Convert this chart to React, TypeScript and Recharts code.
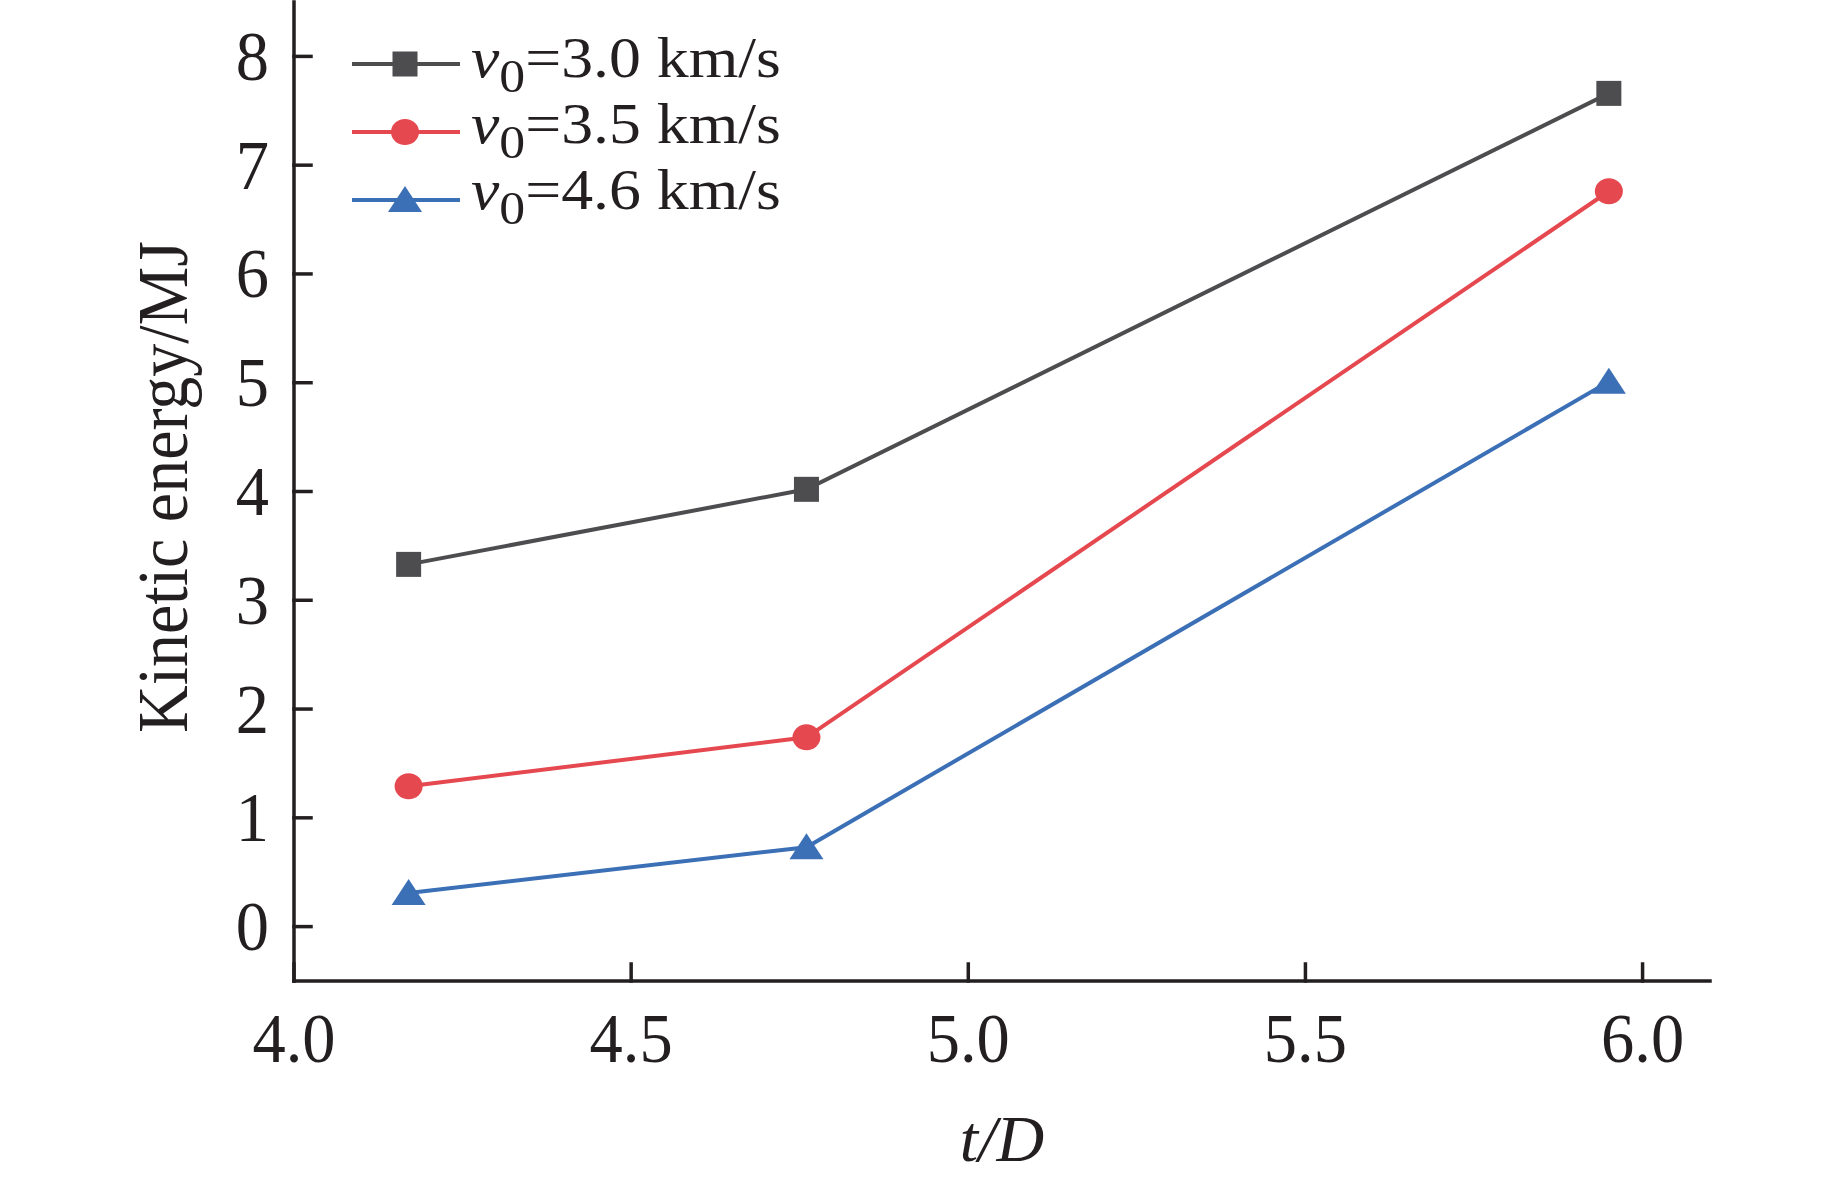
import React from 'react';
import { LineChart, Line, XAxis, YAxis } from 'recharts';

// t/D values and kinetic energy (MJ) for each impact velocity
const tdValues = [4.17, 4.76, 5.95];
const energyV30 = [3.33, 4.02, 7.66];
const energyV35 = [1.29, 1.74, 6.76];
const energyV46 = [0.31, 0.73, 5.01];

const seriesLabels = ['3.0 km/s', '3.5 km/s', '4.6 km/s'];
const xTicks = [4.0, 4.5, 5.0, 5.5, 6.0];
const yTicks = [0, 1, 2, 3, 4, 5, 6, 7, 8];

const chartData = tdValues.map((x, i) => ({
  x,
  v30: energyV30[i],
  v35: energyV35[i],
  v46: energyV46[i],
}));

const FONT = '"Liberation Serif", "Times New Roman", serif';
const INK = '#231f20';
const GREY = '#4d4d4f';
const RED = '#e5484f';
const BLUE = '#3b6fb6';

const Square = ({ cx, cy, fill }: any) => (
  <rect x={cx - 12.5} y={cy - 12.5} width={25} height={25} fill={fill} />
);
const Circle = ({ cx, cy, fill }: any) => <ellipse cx={cx} cy={cy} rx={14} ry={13} fill={fill} />;
const Triangle = ({ cx, cy, fill }: any) => (
  <polygon points={`${cx},${cy - 14} ${cx - 17},${cy + 12} ${cx + 17},${cy + 12}`} fill={fill} />
);

const markers = [Square, Circle, Triangle];
const colors = [GREY, RED, BLUE];

// legend drawn as an overlay so it does not eat into the plot area
const LegendBox = () => {
  const lineY = [44, 112, 180];
  const baseY = [57, 123, 189];
  return (
    <svg
      width={500}
      height={220}
      style={{ position: 'absolute', left: 340, top: 20, overflow: 'visible' }}
    >
      {seriesLabels.map((label, i) => {
        const M = markers[i];
        return (
          <g key={label}>
            <line x1={12} x2={120} y1={lineY[i]} y2={lineY[i]} stroke={colors[i]} strokeWidth={4} />
            <M cx={65} cy={lineY[i]} fill={colors[i]} />
            <text
              transform={`translate(131,${baseY[i]}) scale(1.1,1)`}
              fontFamily={FONT}
              fontSize={58}
              fill={INK}
            >
              <tspan fontStyle="italic">v</tspan>
              <tspan fontSize={47} dy={15}>0</tspan>
              <tspan dy={-15}>={label}</tspan>
            </text>
          </g>
        );
      })}
    </svg>
  );
};

const XTick = ({ x, y, payload }: any) => (
  <text
    transform={`translate(${x},${y + 47}) scale(0.95,1)`}
    textAnchor="middle"
    fontFamily={FONT}
    fontSize={70}
    fill={INK}
  >
    {Number(payload.value).toFixed(1)}
  </text>
);

const YTick = ({ x, y, payload }: any) => (
  <text
    transform={`translate(${x},${y + 23.5}) scale(0.95,1)`}
    textAnchor="end"
    fontFamily={FONT}
    fontSize={70}
    fill={INK}
  >
    {payload.value}
  </text>
);

const lineStroke = { stroke: INK, strokeWidth: 3.5, strokeLinecap: 'square' as const };

export default function App() {
  return (
    <div style={{ position: 'absolute', left: 0, top: 0, width: 1843, height: 1181, background: '#fff' }}>
      <LineChart
        width={1843}
        height={1181}
        data={chartData}
        margin={{ top: 2, right: 133, left: 0, bottom: 0 }}
      >
        <XAxis
          dataKey="x"
          type="number"
          domain={[4, 6.1]}
          ticks={xTicks}
          interval={0}
          allowDataOverflow
          height={200}
          tick={<XTick />}
          tickSize={-17}
          tickMargin={51}
          axisLine={lineStroke}
          tickLine={lineStroke}
          label={{
            content: () => (
              <text
                x={1002}
                y={1161}
                textAnchor="middle"
                fontFamily={FONT}
                fontSize={66}
                fontStyle="italic"
                fill={INK}
              >
                t/D
              </text>
            ),
          }}
        />
        <XAxis
          xAxisId="top"
          dataKey="x"
          type="number"
          orientation="top"
          domain={[4, 6.1]}
          height={0}
          tick={false}
          tickLine={false}
          axisLine={lineStroke}
        />
        <YAxis
          type="number"
          domain={[-0.5, 8.5]}
          ticks={yTicks}
          interval={0}
          allowDataOverflow
          width={294}
          tick={<YTick />}
          tickSize={-17}
          tickMargin={42}
          axisLine={lineStroke}
          tickLine={lineStroke}
          label={{
            content: () => (
              <text
                transform="translate(187,487) rotate(-90) scale(0.93,1)"
                textAnchor="middle"
                fontFamily={FONT}
                fontSize={71}
                fill={INK}
              >
                Kinetic energy/MJ
              </text>
            ),
          }}
        />
        <YAxis
          yAxisId="right"
          type="number"
          orientation="right"
          domain={[-0.5, 8.5]}
          width={0}
          tick={false}
          tickLine={false}
          axisLine={lineStroke}
        />
        <Line
          dataKey="v30"
          stroke={GREY}
          strokeWidth={4}
          isAnimationActive={false}
          activeDot={false}
          dot={(p: any) => <Square key={`s${p.index}`} cx={p.cx} cy={p.cy} fill={GREY} />}
        />
        <Line
          dataKey="v35"
          stroke={RED}
          strokeWidth={4}
          isAnimationActive={false}
          activeDot={false}
          dot={(p: any) => <Circle key={`c${p.index}`} cx={p.cx} cy={p.cy} fill={RED} />}
        />
        <Line
          dataKey="v46"
          stroke={BLUE}
          strokeWidth={4}
          isAnimationActive={false}
          activeDot={false}
          dot={(p: any) => <Triangle key={`t${p.index}`} cx={p.cx} cy={p.cy} fill={BLUE} />}
        />
      </LineChart>
      <LegendBox />
    </div>
  );
}
